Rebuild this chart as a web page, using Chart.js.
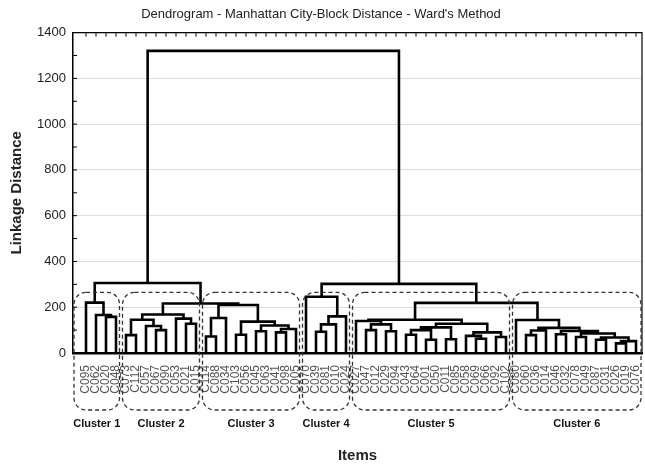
<!DOCTYPE html>
<html><head><meta charset="utf-8">
<script src="https://cdn.jsdelivr.net/npm/chart.js@4.4.1/dist/chart.umd.min.js"></script>
<style>html,body{margin:0;padding:0;background:#fff;}#wrap{width:645px;height:467px;position:relative;}</style>
</head><body><div id="wrap"><canvas id="c"></canvas></div>
<script>
// ---- data (read / estimated from the reference) ----
const leafLabels = [
 'C095','C062','C020','C048',
 'C073','C112','C057','C067','C090','C053','C021','C015',
 'C114','C088','C034','C103','C056','C045','C063','C041','C098','C005',
 'C070','C039','C081','C010','C024',
 'C027','C047','C012','C029','C094','C043','C064','C001','C050','C011','C085','C058','C069','C066','C092','C102',
 'C080','C060','C036','C014','C046','C032','C078','C049','C087','C031','C026','C019','C076'
];
const clusterNames = ['Cluster 1','Cluster 2','Cluster 3','Cluster 4','Cluster 5','Cluster 6'];
const clusterSizes = [4, 8, 10, 5, 16, 13];
// trees: [height, left, right]; a number is a leaf index
const cluster1Tree = [220, 0, [166, 1, [158, 2, 3]]];
const cluster2Tree = [168, [145, [78, 4, 5], [118, 6, [100, 7, 8]]], [150, 9, [128, 10, 11]]];
const cluster3Tree = [210, [153, [72, 12, 13], 14], [137, [80, 15, 16], [120, [95, 17, 18], [105, [90, 19, 20], 21]]]];
const cluster4Tree = [246, 22, [160, [125, [93, 23, 24], 25], 26]];
const cluster5Tree = [145, [140, 27, [125, [100, 28, 29], [95, 30, 31]]],
  [128, [112, [100, [80, 32, 33], [58, 34, 35]], [60, 36, 37]], [90, [75, 38, [62, 39, 40]], [70, 41, 42]]]];
const cluster6Tree = [144, 43, [110, [98, [78, 44, 45], 46], [96, [82, 47, 48], [85, [70, 49, 50], [68, [58, 51, 52], [52, [42, 53, 54], 55]]]]]];
const joinHeights = { c23: 216, left: 306, c56: 219, right: 302, root: 1320 };
const yTicks = [0, 200, 400, 600, 800, 1000, 1200, 1400];
const boxTopValue = 265;

// ---- build the dendrogram segments ----
const root = [joinHeights.root,
  [joinHeights.left, cluster1Tree, [joinHeights.c23, cluster2Tree, cluster3Tree]],
  [joinHeights.right, cluster4Tree, [joinHeights.c56, cluster5Tree, cluster6Tree]]];
const segs = [];
function lay(n) {
  if (typeof n === 'number') return { x: n, h: 0 };
  const L = lay(n[1]), R = lay(n[2]), h = n[0];
  segs.push({x: L.x, y: L.h}, {x: L.x, y: h}, {x: R.x, y: h}, {x: R.x, y: R.h}, {x: R.x, y: null});
  return { x: (L.x + R.x) / 2, h: h };
}
lay(root);

const decor = {
  id: 'decor',
  afterDraw(chart) {
    const {ctx, chartArea: a, scales: {x, y}} = chart;
    ctx.save();
    ctx.strokeStyle = '#000'; ctx.lineWidth = 1.2;
    ctx.beginPath(); ctx.moveTo(a.left, a.top); ctx.lineTo(a.right, a.top); ctx.lineTo(a.right, a.bottom); ctx.stroke();
    ctx.lineWidth = 1;
    ctx.beginPath();
    leafLabels.forEach((l, i) => { const px = x.getPixelForValue(i); ctx.moveTo(px, a.top); ctx.lineTo(px, a.top + 4); });
    for (let v = 100; v < 1400; v += 100) { const py = y.getPixelForValue(v); ctx.moveTo(a.left, py); ctx.lineTo(a.left + 4, py); }
    ctx.stroke();
    let start = 0;
    const top = y.getPixelForValue(boxTopValue), bot = a.bottom + 57;
    ctx.setLineDash([4, 3]); ctx.lineWidth = 1.3; ctx.strokeStyle = '#333';
    clusterSizes.forEach((n, k) => {
      const end = start + n - 1;
      let l = k === 0 ? a.left + 1 : x.getPixelForValue(start - 0.5) + 1.5;
      let r = k === clusterSizes.length - 1 ? a.right - 1 : x.getPixelForValue(end + 0.5) - 1.5;
      ctx.beginPath(); ctx.roundRect(l, top, r - l, bot - top, 12); ctx.stroke();
      ctx.save(); ctx.setLineDash([]);
      ctx.fillStyle = '#111'; ctx.font = 'bold 11px "Liberation Sans", Arial, sans-serif';
      ctx.textAlign = 'center'; ctx.textBaseline = 'middle';
      ctx.fillText(clusterNames[k], (l + r) / 2, a.bottom + 71);
      ctx.restore();
      start = end + 1;
    });
    ctx.restore();
  }
};

new Chart(document.getElementById('c'), {
  type: 'scatter',
  data: { datasets: [{ data: segs, showLine: true, spanGaps: false, pointRadius: 0, borderColor: '#000',
    borderWidth: 2.6, borderJoinStyle: 'miter', borderCapStyle: 'butt' }] },
  options: {
    responsive: true, maintainAspectRatio: false, animation: false,
    layout: { padding: { left: 0, right: 3, top: 0, bottom: 0 } },
    plugins: {
      legend: { display: false }, tooltip: { enabled: false },
      title: { display: true, text: "Dendrogram - Manhattan City-Block Distance - Ward's Method",
        font: { family: '"Liberation Sans", Arial, sans-serif', size: 13, weight: 'normal' }, color: '#222',
        padding: { top: 7, bottom: 10 } }
    },
    scales: {
      x: { type: 'linear', min: -1.3, max: 55.6,
        afterBuildTicks: s => { s.ticks = leafLabels.map((l, i) => ({ value: i })); },
        afterFit: s => { s.height = 114; s.paddingLeft = 0; s.paddingRight = 0; },
        ticks: { autoSkip: false, minRotation: 90, maxRotation: 90, padding: 4, color: '#555',
          font: { family: '"Liberation Sans", Arial, sans-serif', size: 12 }, callback: v => leafLabels[v] },
        grid: { display: false },
        border: { display: true, color: '#000', width: 2.5 },
        title: { display: true, text: 'Items', color: '#222', padding: { top: 0, bottom: 2 },
          font: { family: '"Liberation Sans", Arial, sans-serif', size: 15, weight: 'bold' } } },
      y: { type: 'linear', min: 0, max: 1400,
        afterBuildTicks: s => { s.ticks = yTicks.map(v => ({ value: v })); },
        afterFit: s => { s.width = 73; },
        ticks: { padding: 7, color: '#222', font: { family: '"Liberation Sans", Arial, sans-serif', size: 13 },
          callback: v => String(v) },
        grid: { color: '#dcdcdc', lineWidth: 1, drawTicks: false },
        border: { display: true, color: '#000', width: 1.5 },
        title: { display: true, text: 'Linkage Distance', color: '#222', padding: { top: 8, bottom: 4 },
          font: { family: '"Liberation Sans", Arial, sans-serif', size: 15, weight: 'bold' } } }
    }
  },
  plugins: [decor]
});
</script></body></html>
